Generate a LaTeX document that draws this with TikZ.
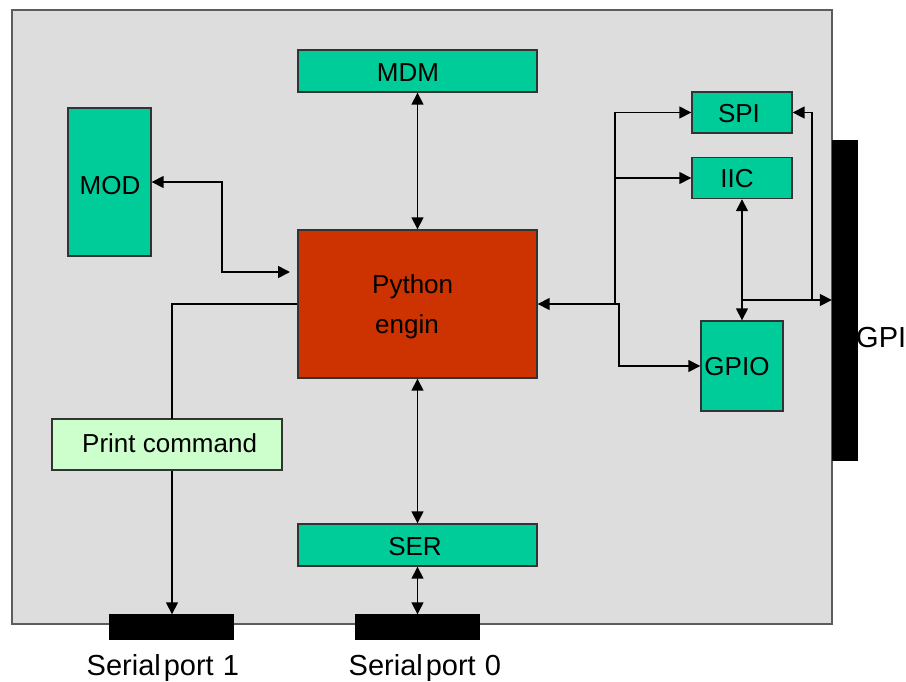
\documentclass[tikz,border=0pt]{standalone}
\usepackage{fontspec}
\setmainfont{Liberation Sans}
\usetikzlibrary{arrows.meta}
\definecolor{boardgray}{HTML}{DDDDDD}
\definecolor{modgreen}{HTML}{00CC99}
\definecolor{pyred}{HTML}{CC3300}
\definecolor{printgreen}{HTML}{CCFFCC}
\definecolor{edgegray}{HTML}{333333}
\tikzset{
  board/.style={draw=edgegray!80, line width=1.2pt, fill=boardgray, inner sep=0pt},
  box/.style={draw=edgegray, line width=1.4pt, inner sep=0pt, font=\fontsize{26}{30}\selectfont},
  gbox/.style={box, fill=modgreen},
  bar/.style={fill=black, draw=black, inner sep=0pt},
  txt/.style={inner sep=0pt, font=\fontsize{26}{30}\selectfont},
  bigtxt/.style={inner sep=0pt, font=\fontsize{29}{33}\selectfont},
  atip/.tip={Triangle[length=12pt,width=12pt]},
  conn/.style={line width=1.6pt, draw=black},
  arr/.style={conn, -atip},
  biarr/.style={conn, atip-atip},
}
\begin{document}
\begin{tikzpicture}[x=1pt, y=-1pt]
\useasboundingbox (0,0) rectangle (906,681);
\node[board, minimum width=820pt, minimum height=614pt] (brd) at (422,317) {};
% boxes
\node[gbox, minimum width=239pt, minimum height=42pt] (mdm) at (417.5,71) {};
\node[txt, anchor=base] (mdmtxt) at (408,81) {MDM};
\node[gbox, minimum width=83pt, minimum height=148pt] (mod) at (109.5,182) {};
\node[txt, anchor=base] (modtxt) at (110,194) {MOD};
\node[box, fill=pyred, minimum width=239pt, minimum height=148pt] (py) at (417.5,304) {};
\node[txt, anchor=base west] (pyt1) at (372,293) {Python};
\node[txt, anchor=base west] (pyt2) at (375,333) {engin};
\node[gbox, minimum width=100pt, minimum height=41pt] (spi) at (742,112.5) {};
\node[txt, anchor=base] (spitxt) at (739,122) {SPI};
\node[gbox, minimum width=100pt, minimum height=41pt] (iic) at (742,178) {};
\node[txt, anchor=base] (iictxt) at (737,187.5) {IIC};
\node[gbox, minimum width=82pt, minimum height=90pt] (gpio) at (742,366) {};
\node[txt, anchor=base] (gpiotxt) at (737,375.5) {GPIO};
\node[box, fill=printgreen, minimum width=230pt, minimum height=51pt] (pc) at (167,444.5) {};
\node[txt, anchor=base west] (pctxt) at (82,452) {Print command};
\node[gbox, minimum width=239pt, minimum height=42pt] (ser) at (417.5,545) {};
\node[txt, anchor=base] (sertxt) at (415,555) {SER};
% ports
\node[bar, minimum width=25pt, minimum height=320pt] (gpi) at (844.5,300.5) {};
\node[bigtxt, anchor=base west] (gpitxt) at (856,347) {GPI};
\node[bar, minimum width=124pt, minimum height=25pt] (sp1) at (171.5,627) {};
\node[bar, minimum width=124pt, minimum height=25pt] (sp0) at (417,627) {};
\node[bigtxt, anchor=base west] (sp1txt) at (86.5,675) {Serial\hspace{3pt}port\hspace{9pt}1};
\node[bigtxt, anchor=base west] (sp0txt) at (348.5,675) {Serial\hspace{3pt}port\hspace{9pt}0};
% connectors
\draw[biarr] (mdm.south) -- (py.north);
\coordinate (modin) at (290,272);
\draw[biarr] (mod.east) -- ++(70,0) |- (modin);
\coordinate (pcx) at (172,419);
\draw[conn] (py.west) -| (pcx);
\draw[arr] (pc.south -| pcx) -- (sp1.north -| pcx);
\draw[biarr] (py.south) -- (ser.north);
\draw[biarr] (ser.south) -- (sp0.north -| ser.south);
% right side
\coordinate (jr) at (615,304);
\coordinate (jr2) at (619,304);
\draw[arr] (jr) -- (py.east);
\draw[arr] (jr) |- (spi.west);
\draw[arr] (jr |- iic.west) -- (iic.west);
\draw[arr] (jr) -- (jr2) |- (gpio.west);
\draw[biarr] (iic.south) -- (gpio.north);
\coordinate (jg) at (742,300);
\coordinate (js) at (812,300);
\draw[arr] (jg) -- (gpi.west |- jg);
\draw[arr] (js) |- (spi.east);
\end{tikzpicture}
\end{document}
